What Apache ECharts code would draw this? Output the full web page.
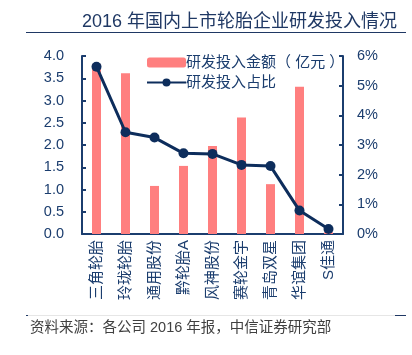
<!DOCTYPE html>
<html><head><meta charset="utf-8">
<script src="https://cdn.jsdelivr.net/npm/echarts@6/dist/echarts.min.js"></script>
<style>html,body{margin:0;padding:0;background:#fff}#c{width:412px;height:355px}</style>
</head><body><div id="c"></div>
<script>
var categories = ['三角轮胎','玲珑轮胎','通用股份','黔轮胎A','风神股份','赛轮金宇','青岛双星','华谊集团','S佳通'];
var amounts = [3.82, 3.61, 1.08, 1.53, 1.98, 2.62, 1.12, 3.31, 0.04];
var ratios = [5.64, 3.43, 3.25, 2.72, 2.70, 2.33, 2.29, 0.79, 0.17];
var leftTicks = [0, 4, 0.5];
var rightTicks = [0, 6, 1];
var titleText = '2016 年国内上市轮胎企业研发投入情况';
var sourceText = '资料来源：各公司 2016 年报，中信证券研究部';
var seriesNames = ['研发投入金额（ 亿元 ）', '研发投入占比'];

var navy = '#1b3d6e';
var font = '"Liberation Sans", Arial, "Noto Sans CJK SC", sans-serif';
var chart = echarts.init(document.getElementById('c'), null, {renderer: 'canvas'});
chart.setOption({
  animation: false,
  textStyle: {fontFamily: font},
  title: {
    text: titleText, right: 10, top: 8,
    textStyle: {fontFamily: font, fontSize: 18, fontWeight: 'normal', color: '#1f3864'}
  },
  legend: {
    left: 141, top: 50, orient: 'vertical', itemGap: 5,
    itemWidth: 39, itemHeight: 10,
    textStyle: {fontFamily: font, fontSize: 15, color: navy, padding: [0,0,0,-5]},
    data: seriesNames
  },
  grid: {left: 82, right: 69, top: 56, bottom: 121},
  xAxis: {
    type: 'category', data: categories,
    axisLine: {lineStyle: {color: navy, width: 2}},
    axisTick: {show: false},
    axisLabel: {rotate: 90, fontSize: 15, color: navy, margin: 6, fontFamily: font}
  },
  yAxis: [{
    type: 'value', min: leftTicks[0], max: leftTicks[1], interval: leftTicks[2],
    axisLine: {show: true, lineStyle: {color: navy, width: 2}},
    axisTick: {show: true, inside: true, length: 4, lineStyle: {color: navy, width: 2}},
    splitLine: {show: false},
    axisLabel: {fontSize: 14.5, color: navy, margin: 18, formatter: function(v){return v.toFixed(1);}}
  }, {
    type: 'value', min: rightTicks[0], max: rightTicks[1], interval: rightTicks[2],
    axisLine: {show: true, lineStyle: {color: navy, width: 2}},
    axisTick: {show: true, inside: true, length: 4, lineStyle: {color: navy, width: 2}},
    splitLine: {show: false},
    axisLabel: {fontSize: 14.5, color: navy, margin: 14, formatter: '{value}%'}
  }],
  series: [{
    name: seriesNames[0], type: 'bar', data: amounts, barWidth: 9,
    itemStyle: {color: '#ff7f7f'}
  }, {
    name: seriesNames[1], type: 'line', yAxisIndex: 1, data: ratios,
    symbol: 'circle', symbolSize: 10,
    lineStyle: {color: '#0d2d5c', width: 3},
    itemStyle: {color: '#0d2d5c'}
  }],
  graphic: [
    {type: 'line', shape: {x1: 26, y1: 32.5, x2: 406, y2: 32.5}, style: {stroke: '#1f3864', lineWidth: 1}},
    {type: 'line', shape: {x1: 26, y1: 315.5, x2: 406, y2: 315.5}, style: {stroke: '#e6e6e6', lineWidth: 1}},
    {type: 'line', shape: {x1: 26, y1: 315.5, x2: 28, y2: 315.5}, style: {stroke: '#1f3864', lineWidth: 1}},
    {type: 'line', shape: {x1: 395, y1: 315.5, x2: 406, y2: 315.5}, style: {stroke: '#1f3864', lineWidth: 1}},
    {type: 'text', left: 30, top: 321, style: {text: sourceText, fontSize: 14.5, fill: '#404040', fontFamily: font}}
  ]
});
</script></body></html>
